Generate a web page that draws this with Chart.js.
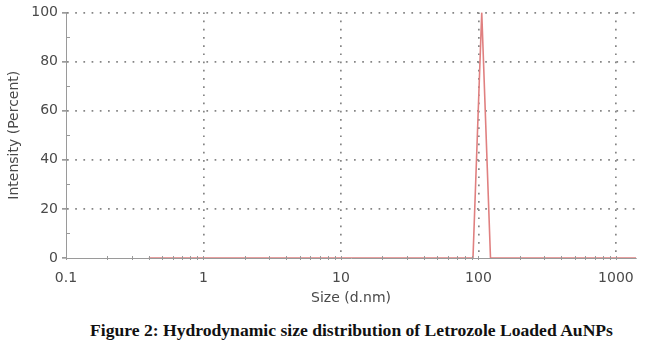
<!DOCTYPE html>
<html>
<head>
<meta charset="utf-8">
<script src="https://cdn.jsdelivr.net/npm/chart.js@4"></script>
<style>
  html,body{margin:0;padding:0;background:#fff;}
  body{width:662px;height:357px;position:relative;overflow:hidden;}
  #wrap{position:absolute;left:0;top:0;width:662px;height:310px;}
  #caption{position:absolute;left:90px;top:320px;font-family:"Liberation Serif","Times New Roman",serif;font-weight:bold;font-size:17.6px;line-height:20px;color:#111;white-space:nowrap;}
</style>
</head>
<body>
<div id="wrap"><canvas id="c"></canvas></div>
<div id="caption">Figure 2: Hydrodynamic size distribution of Letrozole Loaded AuNPs</div>
<script>
// Data (size in d.nm, intensity in %)
const sizes = [0.4, 91.28, 105.7, 122.4, 1484];
const intensity = [0, 0, 100, 0, 0];

// Axis ticks
const xMajorTicks = [0.1, 1, 10, 100, 1000];
const xMinorTicks = [0.2,0.3,0.4,0.5,0.6,0.7,0.8,0.9, 2,3,4,5,6,7,8,9, 20,30,40,50,60,70,80,90, 200,300,400,500,600,700,800,900];
const yMajorTicks = [0, 20, 40, 60, 80, 100];
const yMinorTicks = [10, 30, 50, 70, 90];
const xMin = 0.1, xMax = 1400;

const axisGray = '#9a9a9a';
const gridGray = '#858585';
const textGray = '#4a4a4a';
const font = {family: '"DejaVu Sans", Arial, sans-serif', size: 14};

const minorTickPlugin = {
  id: 'minorTicks',
  afterDraw(chart) {
    const ctx = chart.ctx, xs = chart.scales.x, ys = chart.scales.y, a = chart.chartArea;
    ctx.save();
    ctx.strokeStyle = axisGray;
    ctx.lineWidth = 1;
    ctx.beginPath();
    yMinorTicks.forEach(v => {
      const py = Math.round(ys.getPixelForValue(v)) + 0.5;
      ctx.moveTo(a.left, py); ctx.lineTo(a.left + 4, py);
    });
    xMinorTicks.concat(xMajorTicks).forEach(v => {
      const px = Math.round(xs.getPixelForValue(v)) + 0.5;
      ctx.moveTo(px, a.bottom - 2); ctx.lineTo(px, a.bottom + 2);
    });
    ctx.stroke();
    ctx.restore();
  }
};

new Chart(document.getElementById('c'), {
  type: 'line',
  data: {
    datasets: [{
      data: sizes.map((s, i) => ({x: s, y: intensity[i]})),
      borderColor: '#e08080',
      borderWidth: 1.6,
      pointRadius: 0,
      tension: 0,
      fill: false
    }]
  },
  options: {
    responsive: true,
    maintainAspectRatio: false,
    animation: false,
    layout: {padding: {left: 0, right: 26, top: 10, bottom: 0}},
    plugins: {legend: {display: false}, tooltip: {enabled: false}},
    scales: {
      x: {
        type: 'logarithmic',
        min: xMin, max: xMax,
        afterBuildTicks(scale) {
          scale.ticks = xMajorTicks.concat(xMinorTicks).sort((a, b) => a - b).map(v => ({value: v, major: xMajorTicks.includes(v)}));
        },
        afterFit(scale) { scale.height = 52; },
        ticks: {
          autoSkip: false, maxRotation: 0, padding: 8, color: textGray, font: font,
          callback(v) { return xMajorTicks.includes(v) ? String(v) : ''; }
        },
        grid: {
          color: ctx => (ctx.tick && xMajorTicks.includes(ctx.tick.value) && ctx.tick.value !== xMin) ? gridGray : 'rgba(0,0,0,0)',
          lineWidth: 1.7,
          drawTicks: true,
          tickLength: 4,
          tickColor: 'rgba(0,0,0,0)'
        },
        border: {display: true, color: axisGray, width: 1, dash: [1.7, 6.5]},
        title: {display: true, text: 'Size (d.nm)', color: textGray, font: font, padding: {top: 0, bottom: 3}}
      },
      y: {
        min: 0, max: 100,
        afterBuildTicks(scale) {
          scale.ticks = yMajorTicks.concat(yMinorTicks).sort((a, b) => a - b).map(v => ({value: v}));
        },
        afterFit(scale) { scale.width = 66; },
        ticks: {
          padding: 4, color: textGray, font: font,
          callback(v) { return yMajorTicks.includes(v) ? String(v) : ''; }
        },
        grid: {
          color: ctx => (ctx.tick && yMajorTicks.includes(ctx.tick.value) && ctx.tick.value !== 0) ? gridGray : 'rgba(0,0,0,0)',
          lineWidth: 1.7,
          drawTicks: true,
          tickLength: 4,
          tickColor: ctx => (ctx.tick && yMajorTicks.includes(ctx.tick.value)) ? axisGray : 'rgba(0,0,0,0)'
        },
        border: {display: true, color: axisGray, width: 1, dash: [1.7, 6.5]},
        title: {display: true, text: 'Intensity (Percent)', color: textGray, font: font, padding: {top: 6, bottom: 0}}
      }
    }
  },
  plugins: [minorTickPlugin]
});
</script>
</body>
</html>
